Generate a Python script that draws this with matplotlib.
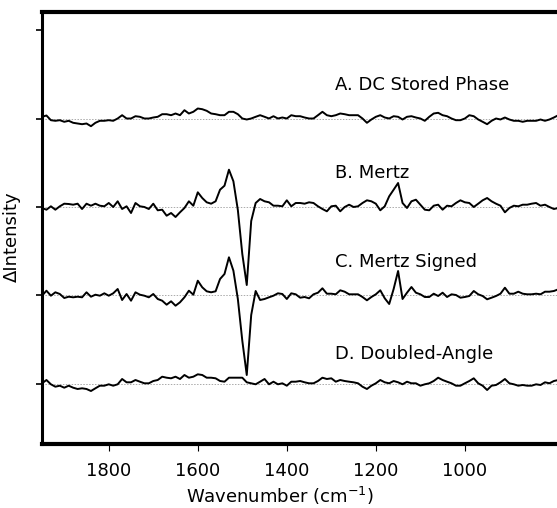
import numpy as np
import matplotlib
matplotlib.use('Agg')
import matplotlib.pyplot as plt

# eixo x: numero de onda (cm-1), passo de 10
wavenumber = np.arange(1950, 785, -10)

# espectros (unidades arbitrarias, linha de base = 0)
dc_stored = [
    1.7, 3, -1.7, -2.3, -1.7, -3.3, -2.3, -4.3, -5, -5.7,
    -5, -7.7, -4.3, -2.3, -2.3, -1.7, -2.3, 0, 3.3, 0,
    0, 2.3, 1.7, 0, 0, 1, 1.7, 4.3, 4.3, 3.3,
    5, 3.3, 8.3, 5, 6.7, 10, 9.3, 7.7, 5, 4.3,
    3.3, 3.3, 6.7, 6.7, 4.3, 0, -1, 0, 1.7, 3.3,
    1.7, 0, 2.3, 0, 1, 0, 3.3, 2.3, 2.3, 1,
    0, 0, 3.3, 6.7, 3.3, 2.3, 3.3, 5, 4.3, 3.3,
    3.3, 3.3, 0, -4.3, -1, 1.7, 3.3, 1, 0, 2.3,
    1.7, -1, 1.7, 2.3, 1, 0, -2.3, 1.7, 5, 5.7,
    3.3, 2.3, 0, -1.7, -1.7, 0, 3.3, 2.3, -1, -3.3,
    -5.7, -2.3, 0, -1, 1, -1, -2.3, -2.3, -3.3, -2.3,
    -2.3, -2.3, -1, -2.3, -1, 1, 3.3]
mertz = [
    -1, -2.7, 0.7, -2.7, 0.7, 3.3, 3, 2.3, 3.3, -2,
    3.3, 1.3, 3.3, 1.3, 0.7, 4, 0, 5.7, -2, 0.7,
    -6, 4, 0.7, 0, -2, 3.3, -3.3, -2.7, -8.7, -6,
    -10, -5.3, -1, 5.7, 1.3, 14.7, 9, 4.7, 3.3, 5.7,
    17.3, 21.3, 37.3, 25.7, -3, -47, -78, -14, 4, 8,
    5.7, 4.7, 1.3, 1.3, 0.7, 6.7, 0.7, 4, 4, 3.3,
    4.7, 4, 0.7, -2, -4.3, 0.7, 1.3, -4.3, 0, 2.3,
    0, 0.7, 4, 6.7, 5.7, 3.3, -3.3, 0.7, 10.7, 17.3,
    24, 4, -1, 5.7, 7.3, 2.3, -2.7, -3.3, 1.3, 2.3,
    -2.7, 1.3, 0.7, 4, 6.7, 4.7, 4, 0, 3.3, 6.7,
    9, 5.7, 3.3, 1.3, -5.3, -1, 1.3, 0.7, 2.3, 2.3,
    3.3, 4, 1.3, 2.3, 0, -2, -1]
mertz_signed = [
    -0.7, 4.3, -0.7, 2.7, 1, -3, -1.7, -2.3, -1.7, -2.3,
    2.7, -1.7, 0.3, -0.7, 1.7, -0.7, 1.7, 6, -5, 1,
    -5.7, 2.7, 0.3, -0.7, -2.3, 1, -4, -5.7, -9.7, -6.3,
    -10.7, -7.3, -2.3, 4.3, 0.3, 14.3, 7.7, 3.7, 2.7, 3.7,
    16, 21, 37.7, 24.3, -4, -45.7, -80, -20, 4, -5,
    -4, -2.3, -0.7, 1.7, 1, -4, 1.7, 0.7, -2.7, -2,
    -3.3, 0.7, 2.3, 6.7, 1.3, 1.3, 0.7, 4.7, 3.3, 0.7,
    0.7, 0.7, -2, -5.3, -2, 0.7, 4.7, -3.3, -9, 6,
    24, -4, 2.3, 8, 2.3, 0.7, -2, -2, 1.3, -1,
    2.3, -2, 0.7, 0, -2.7, -2, -1, 4, 0.7, -1,
    -4.3, -2.7, -1, 1.3, 7.3, 1.3, 1.3, 3.3, 1.3, 0.7,
    0.7, 1.3, 0.7, 3.3, 3.3, 4, 5.7]
doubled_angle = [
    0.7, 4, -0.3, -2.7, -1.7, -3.7, -1.7, -3.7, -5, -4.3,
    -5, -7, -4.3, -1.7, -1.7, -0.3, -1.7, -0.3, 5, 1.7,
    1.7, 4, 2.3, 0.7, 0.7, 3, 4, 7.3, 6.3, 5.7,
    7.3, 5, 9, 6.3, 7.3, 9.7, 9, 6.3, 6.3, 5.7,
    3, 2.3, 6.3, 6.3, 6.3, 6.3, 1.7, 0.7, -0.3, 2.3,
    5, -0.3, 2.3, -0.3, 0.7, -1.7, 2.3, 2.3, 3, 1.7,
    0.7, 0.7, 3, 6.3, 5, 5.7, 2.3, 4, 3, 2.3,
    1.7, 0.7, -2.7, -5, -1.7, 0.7, 4, 1.7, 0.7, 3,
    1.7, -0.3, 2.3, 0.7, 0.7, -1.7, -0.3, 0.7, 3, 6.3,
    4, 2.3, 0.7, -1.7, -1.7, 0.7, 3, 5.7, 0.7, -1.7,
    -6, -1.7, -1, 1.7, 5, 0.7, -0.3, -1.7, -1, -1.7,
    -1.7, -0.3, -1, 1.7, 0.7, 3, 4]

series = [dc_stored, mertz, mertz_signed, doubled_angle]
labels = ["A. DC Stored Phase", "B. Mertz", "C. Mertz Signed", "D. Doubled-Angle"]

# deslocamentos verticais de cada curva
offsets = [265.5, 177, 89, 0]
label_y = [299, 211, 122, 30]
x_ticks = [1800, 1600, 1400, 1200, 1000]

plt.rcParams['font.family'] = ['DejaVu Sans']
plt.rcParams['mathtext.fontset'] = 'dejavusans'

fig = plt.figure(figsize=(5.57, 5.08), dpi=100)
fig.patch.set_facecolor('white')
ax = fig.add_axes([42 / 557, 64 / 508, 515 / 557, 432 / 508])

for vals, off, lab, ly in zip(series, offsets, labels, label_y):
    ax.axhline(off, color='#aaaaaa', lw=0.7, ls=(0, (1.5, 1.5)), zorder=1)
    ax.plot(wavenumber, np.array(vals) + off, color='black', lw=1.4, zorder=2)
    ax.text(1292, ly, lab, fontsize=13, va='center', ha='left')

ax.set_xlim(1950, 793)
ax.set_ylim(-60, 372)

ax.set_xticks(x_ticks)
ax.set_xticklabels([str(t) for t in x_ticks], fontsize=13)
ax.set_yticks(offsets + [354])
ax.set_yticklabels([])

ax.spines['right'].set_visible(False)
ax.spines['top'].set_linewidth(3)
ax.spines['bottom'].set_linewidth(3)
ax.spines['left'].set_linewidth(2.2)
ax.tick_params(axis='x', direction='out', length=5, width=0.8, pad=8)
ax.tick_params(axis='y', direction='out', length=4.5, width=1.2)

ax.set_xlabel(r'Wavenumber (cm$^{-1}$)', fontsize=13)
ax.xaxis.set_label_coords(238 / 515, -0.12)
ax.xaxis.label.set_va('center')
ax.set_ylabel('ΔIntensity', fontsize=13)
ax.yaxis.set_label_coords(-0.058, 0.48)
ax.yaxis.label.set_va('center')

fig.savefig('out.png', dpi=100)
